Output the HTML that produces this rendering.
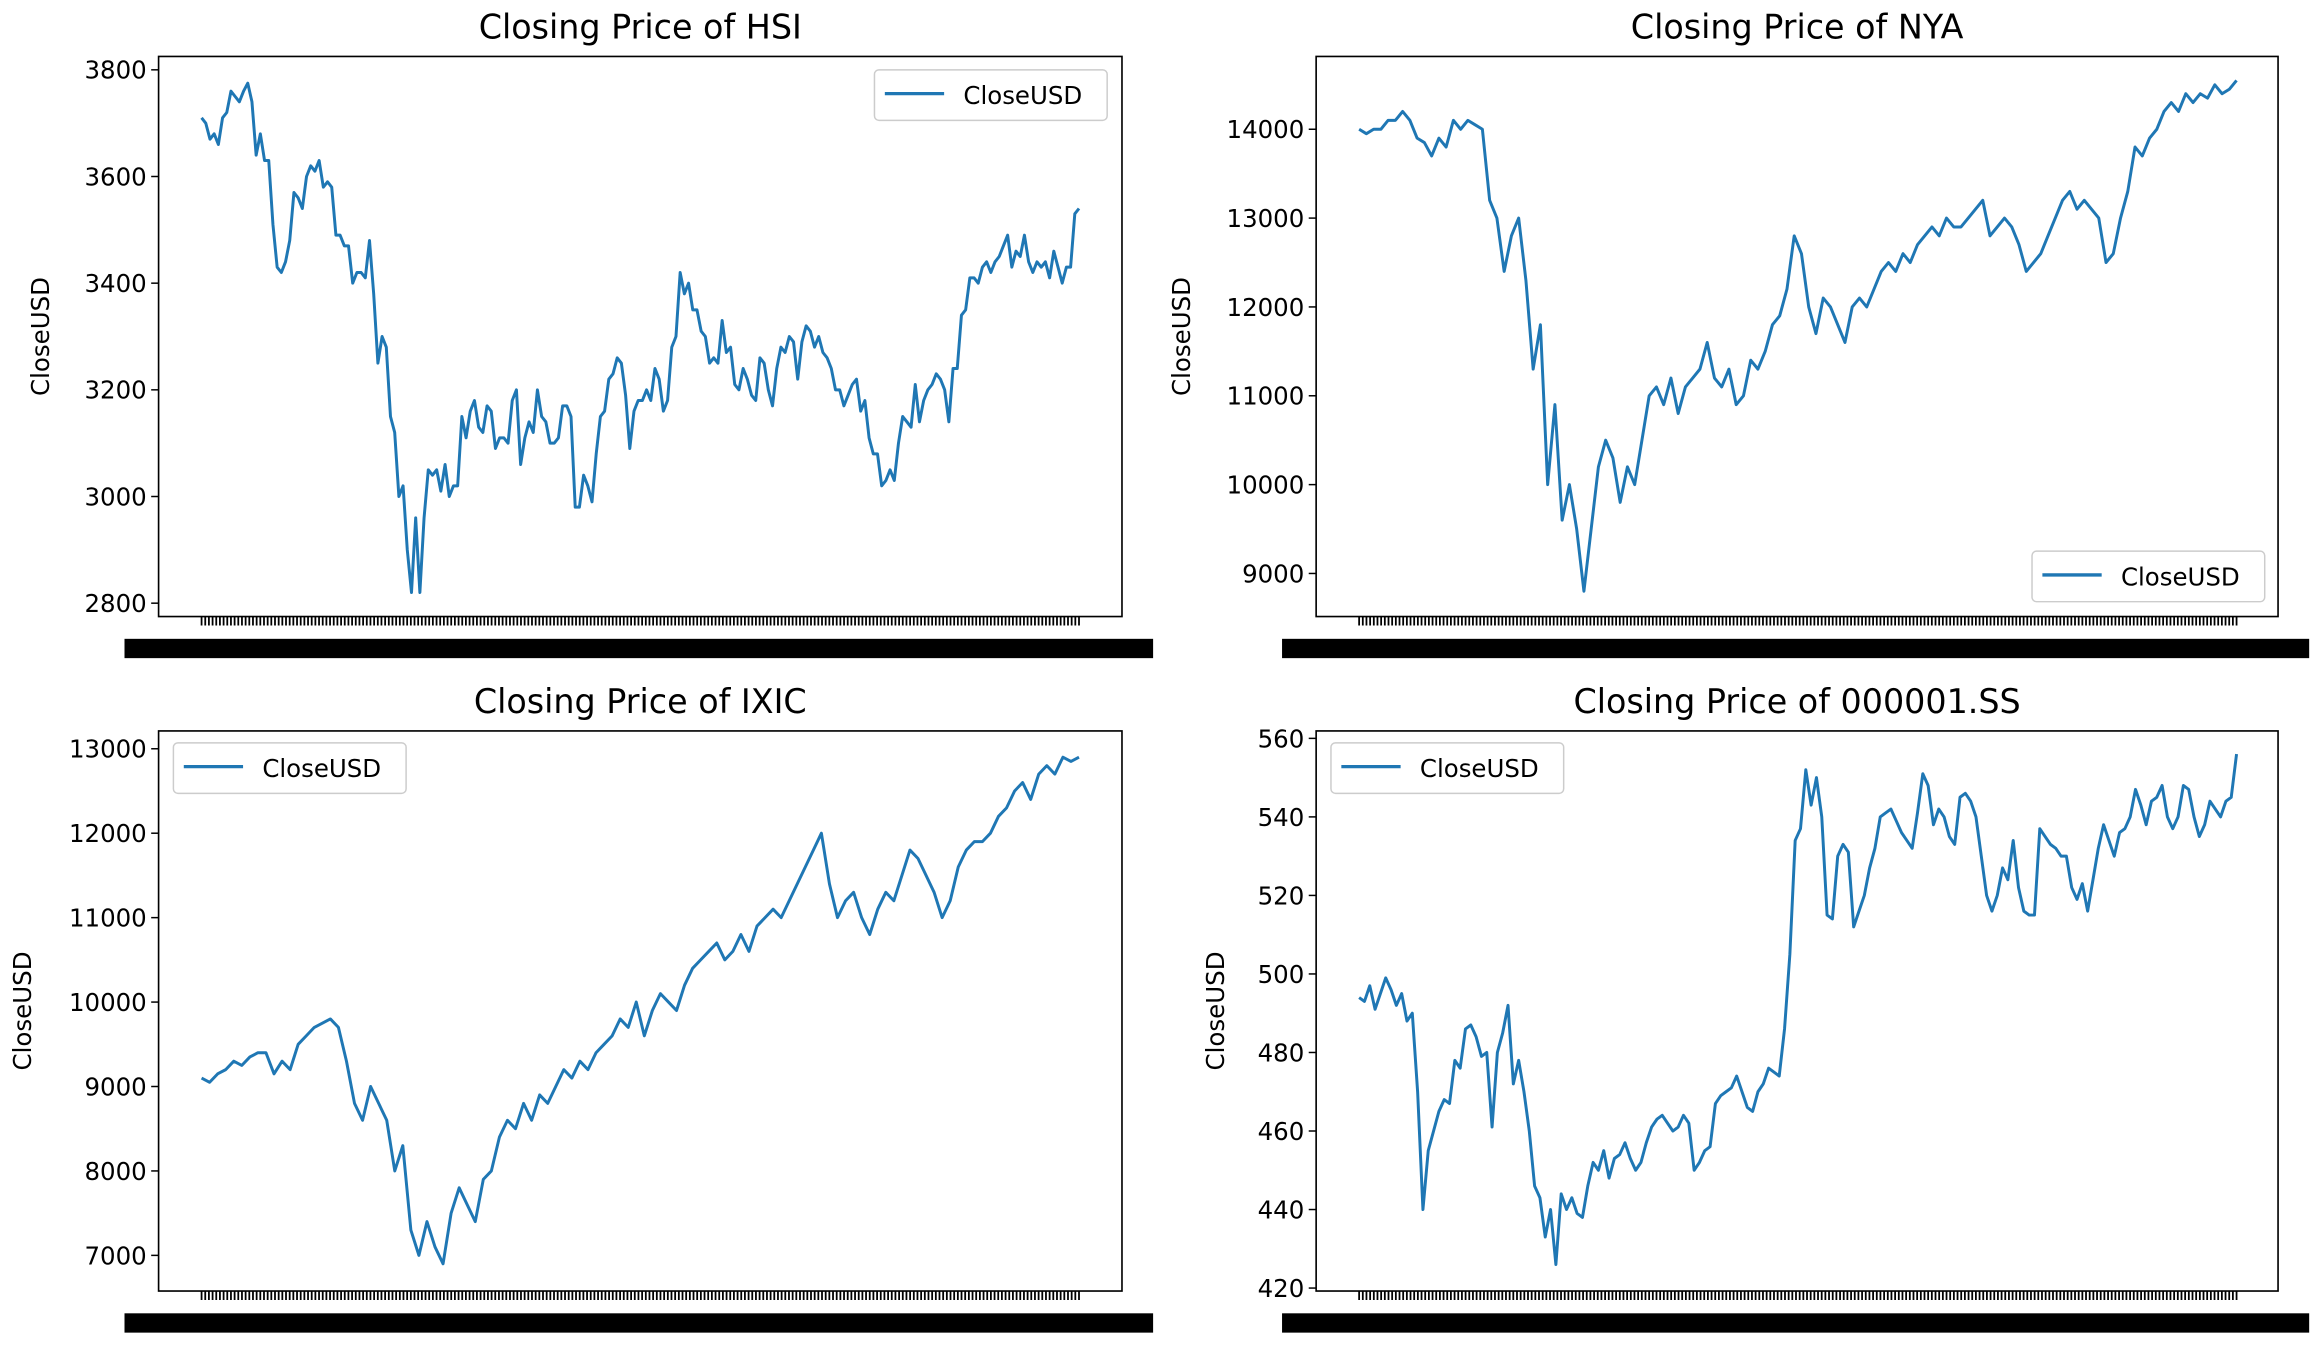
<!DOCTYPE html>
<html><head><meta charset="utf-8"><style>
html,body{margin:0;padding:0;background:#fff;}
svg{display:block;}
text{font-family:"DejaVu Sans","Liberation Sans",sans-serif;fill:#000;}
</style></head><body>
<svg id="fig" width="2324" height="1346" xmlns="http://www.w3.org/2000/svg">
<rect width="2324" height="1346" fill="#fff"/>
<g id="root" transform="scale(1.48214,1.48565)"></g>
</svg>
<script>
const hsiValues=[3710,3700,3670,3680,3660,3710,3720,3760,3750,3740,3760,3775,3740,3640,3680,3630,3630,3510,3430,3420,3440,3480,3570,3560,3540,3600,3620,3610,3630,3580,3590,3580,3490,3490,3470,3470,3400,3420,3420,3410,3480,3380,3250,3300,3280,3150,3120,3000,3020,2900,2820,2960,2820,2960,3050,3040,3050,3010,3060,3000,3020,3020,3150,3110,3160,3180,3130,3120,3170,3160,3090,3110,3110,3100,3180,3200,3060,3110,3140,3120,3200,3150,3140,3100,3100,3110,3170,3170,3150,2980,2980,3040,3020,2990,3080,3150,3160,3220,3230,3260,3250,3190,3090,3160,3180,3180,3200,3180,3240,3220,3160,3180,3280,3300,3420,3380,3400,3350,3350,3310,3300,3250,3260,3250,3330,3270,3280,3210,3200,3240,3220,3190,3180,3260,3250,3200,3170,3240,3280,3270,3300,3290,3220,3290,3320,3310,3280,3300,3270,3260,3240,3200,3200,3170,3190,3210,3220,3160,3180,3110,3080,3080,3020,3030,3050,3030,3100,3150,3140,3130,3210,3140,3180,3200,3210,3230,3220,3200,3140,3240,3240,3340,3350,3410,3410,3400,3430,3440,3420,3440,3450,3470,3490,3430,3460,3450,3490,3440,3420,3440,3430,3440,3410,3460,3430,3400,3430,3430,3530,3540];
const nyaValues=[14000,13950,14000,14000,14100,14100,14200,14100,13900,13850,13700,13900,13800,14100,14000,14100,14050,14000,13200,13000,12400,12800,13000,12300,11300,11800,10000,10900,9600,10000,9500,8800,9500,10200,10500,10300,9800,10200,10000,10500,11000,11100,10900,11200,10800,11100,11200,11300,11600,11200,11100,11300,10900,11000,11400,11300,11500,11800,11900,12200,12800,12600,12000,11700,12100,12000,11800,11600,12000,12100,12000,12200,12400,12500,12400,12600,12500,12700,12800,12900,12800,13000,12900,12900,13000,13100,13200,12800,12900,13000,12900,12700,12400,12500,12600,12800,13000,13200,13300,13100,13200,13100,13000,12500,12600,13000,13300,13800,13700,13900,14000,14200,14300,14200,14400,14300,14400,14350,14500,14400,14450,14550];
const ixicValues=[9100,9050,9150,9200,9300,9250,9350,9400,9400,9150,9300,9200,9500,9600,9700,9750,9800,9700,9300,8800,8600,9000,8800,8600,8000,8300,7300,7000,7400,7100,6900,7500,7800,7600,7400,7900,8000,8400,8600,8500,8800,8600,8900,8800,9000,9200,9100,9300,9200,9400,9500,9600,9800,9700,10000,9600,9900,10100,10000,9900,10200,10400,10500,10600,10700,10500,10600,10800,10600,10900,11000,11100,11000,11200,11400,11600,11800,12000,11400,11000,11200,11300,11000,10800,11100,11300,11200,11500,11800,11700,11500,11300,11000,11200,11600,11800,11900,11900,12000,12200,12300,12500,12600,12400,12700,12800,12700,12900,12850,12900];
const ssValues=[494,493,497,491,495,499,496,492,495,488,490,470,440,455,460,465,468,467,478,476,486,487,484,479,480,461,480,485,492,472,478,470,460,446,443,433,440,426,444,440,443,439,438,446,452,450,455,448,453,454,457,453,450,452,457,461,463,464,462,460,461,464,462,450,452,455,456,467,469,470,471,474,470,466,465,470,472,476,475,474,486,505,534,537,552,543,550,540,515,514,530,533,531,512,516,520,527,532,540,541,542,539,536,534,532,541,551,548,538,542,540,535,533,545,546,544,540,530,520,516,520,527,524,534,522,516,515,515,537,535,533,532,530,530,522,519,523,516,524,532,538,534,530,536,537,540,547,543,538,544,545,548,540,537,540,548,547,540,535,538,544,542,540,544,545,556];
const hsiTicks=[2800,3000,3200,3400,3600,3800];
const nyaTicks=[9000,10000,11000,12000,13000,14000];
const ixicTicks=[7000,8000,9000,10000,11000,12000,13000];
const ssTicks=[420,440,460,480,500,520,540,560];
const titles=["Closing Price of HSI","Closing Price of NYA","Closing Price of IXIC","Closing Price of 000001.SS"];

const NS="http://www.w3.org/2000/svg";
const root=document.getElementById('root');
function mk(tag,attrs,parent){const e=document.createElementNS(NS,tag);for(const k in attrs)e.setAttribute(k,attrs[k]);(parent||root).appendChild(e);return e;}

// panel geometry: box, y mapping refs (v1,y1,v2,y2), legend pos, key
const panels=[
 {key:'hsi',vals:hsiValues,ticks:hsiTicks,box:[107,38,757,415],ref:[3800,47,2800,406],x0:136,x1:728,leg:[590,47],ylx:27},
 {key:'nya',vals:nyaValues,ticks:nyaTicks,box:[888,38,1537,415],ref:[14000,87,9000,386],x0:917,x1:1509,leg:[1371,371],ylx:797},
 {key:'ixic',vals:ixicValues,ticks:ixicTicks,box:[107,492,757,869],ref:[13000,504,7000,845],x0:136,x1:728,leg:[117,500],ylx:15},
 {key:'ss',vals:ssValues,ticks:ssTicks,box:[888,492,1537,869],ref:[560,497,420,867],x0:917,x1:1509,leg:[898,500],ylx:820}
];

panels.forEach((p,pi)=>{
  const g=mk('g',{});
  
  
  const [bx0,by0,bx1,by1]=p.box;
  const [v1,y1,v2,y2]=p.ref;
  const yScale=v=>y1+(v-v1)*(y2-y1)/(v2-v1);
  const n=p.vals.length;
  const xScale=i=>p.x0+i*(p.x1-p.x0)/(n-1);
  const cx=(bx0+bx1)/2;
  const t=mk('text',{x:cx,y:by0-12,'text-anchor':'middle','font-size':'22.5'},g);
  t.textContent=titles[pi];
  
  
  // y ticks
  p.ticks.forEach(v=>{
    const y=yScale(v);
    mk('line',{x1:bx0-5,x2:bx0,y1:y,y2:y,stroke:'#000','stroke-width':1},g);
    const tl=mk('text',{x:bx0-8,y:y+6,'text-anchor':'end','font-size':'16.5'},g);
    tl.textContent=String(v);
    
    
  });
  // y label
  const yl=mk('text',{x:0,y:0,'text-anchor':'middle','font-size':'16.5',transform:`translate(${p.ylx+6},${(by0+by1)/2}) rotate(-90)`},g);
  yl.textContent='CloseUSD';
  
  
  // x ticks (dense)
  let d='';
  const nt=240;
  for(let i=0;i<nt;i++){const x=p.x0+i*(p.x1-p.x0)/(nt-1);d+=`M${x.toFixed(2)},${by1}v6`;}
  const xt=mk('path',{d:d,stroke:'#000','stroke-width':1.2},g);
  
  
  const band=mk('rect',{x:bx0-23,y:by1+15,width:(bx1-bx0)+44,height:13,fill:'#000'},g);
  
  
  // line
  let pd='';
  p.vals.forEach((v,i)=>{pd+=(i?'L':'M')+xScale(i).toFixed(2)+','+yScale(v).toFixed(2);});
  const ln=mk('path',{d:pd,fill:'none',stroke:'#1f77b4','stroke-width':2,'stroke-linejoin':'round'},g);
  
  
  // frame
  const fr=mk('rect',{x:bx0,y:by0,width:bx1-bx0,height:by1-by0,fill:'none',stroke:'#000','stroke-width':1.1},g);
  
  
  // legend
  const [lx,ly]=p.leg;
  const lg=mk('g',{},g);
  
  
  mk('rect',{x:lx,y:ly,width:157,height:34,rx:3,fill:'#fff',stroke:'#ccc','stroke-width':1},lg);
  mk('line',{x1:lx+7,x2:lx+47,y1:ly+16,y2:ly+16,stroke:'#1f77b4','stroke-width':2.2},lg);
  const lt=mk('text',{x:lx+60,y:ly+23,'font-size':'16.5'},lg);
  lt.textContent='CloseUSD';
  
  
});
</script>
</body></html>
